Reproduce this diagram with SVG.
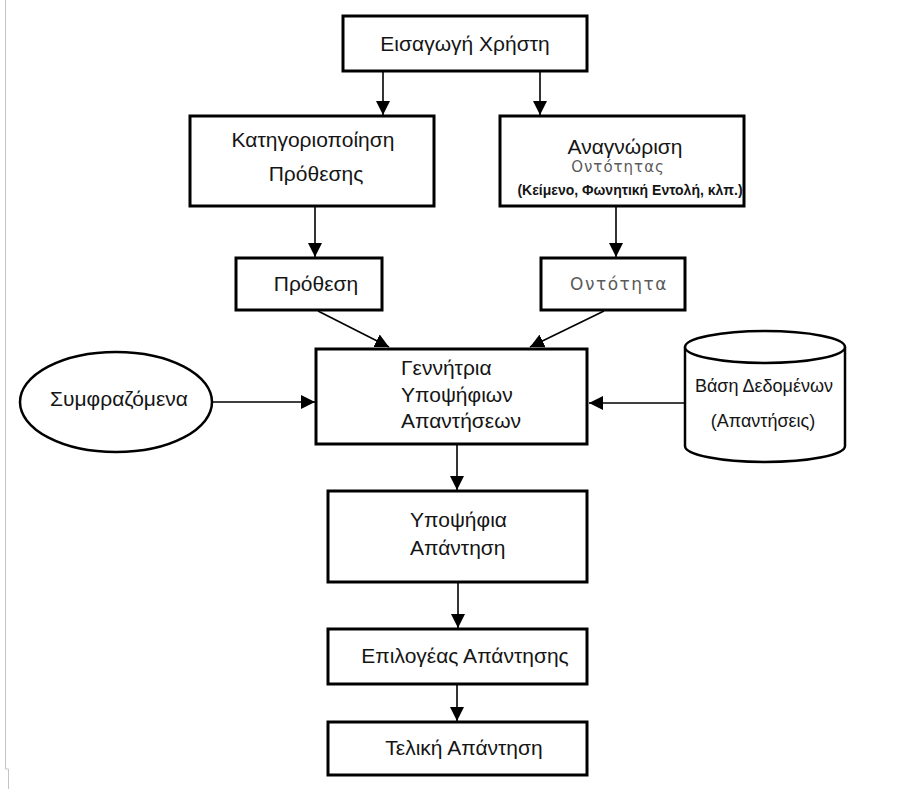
<svg xmlns="http://www.w3.org/2000/svg" width="897" height="789" viewBox="0 0 897 789">
<defs>
<marker id="ah" markerUnits="userSpaceOnUse" markerWidth="14" markerHeight="14" refX="14" refY="7" orient="auto">
<path d="M0,0 L14,7 L0,14 z" fill="#000"/>
</marker>
<style>
.box{fill:#fff;stroke:#000;stroke-width:3}
.shape{fill:#fff;stroke:#000;stroke-width:2.5}
.t{font-family:"Liberation Sans",Arial,sans-serif;font-size:21px;fill:#151515}
.c{text-anchor:middle}
.s{font-size:18px}
.g{font-family:"DejaVu Sans",Verdana,sans-serif;fill:#5a5a5a;text-anchor:middle}
.b{font-family:"Liberation Sans",Arial,sans-serif;font-size:14px;font-weight:bold;fill:#151515;text-anchor:middle}
.conn line{stroke:#000;stroke-width:1.6;marker-end:url(#ah)}
</style>
</defs>
<rect width="897" height="789" fill="#fff"/>
<path d="M5.5,0 V769 H8.5 V789" fill="none" stroke="#c4c4c4" stroke-width="1"/>

<g id="connectors" class="conn">
<line x1="383" y1="72" x2="383" y2="115"/>
<line x1="540" y1="72" x2="540" y2="115"/>
<line x1="315" y1="207" x2="315" y2="257"/>
<line x1="616" y1="207" x2="616" y2="257"/>
<line x1="318" y1="311" x2="389" y2="347"/>
<line x1="604" y1="311" x2="530" y2="347"/>
<line x1="212" y1="402" x2="315" y2="402"/>
<line x1="685" y1="403" x2="589" y2="403"/>
<line x1="457" y1="444" x2="457" y2="490"/>
<line x1="458" y1="583" x2="458" y2="628"/>
<line x1="457" y1="685" x2="457" y2="721"/>
</g>

<g id="user-input">
<rect class="box" x="343" y="16" width="244" height="55"/>
<text class="t c" x="465" y="51">Εισαγωγή Χρήστη</text>
</g>

<g id="intent-classification">
<rect class="box" x="190" y="116" width="244" height="90"/>
<text class="t c" x="313" y="147">Κατηγοριοποίηση</text>
<text class="t c" x="316" y="181">Πρόθεσης</text>
</g>

<g id="entity-recognition">
<rect class="box" x="500" y="116" width="244" height="90"/>
<text class="t c" x="625" y="154">Αναγνώριση</text>
<text class="g" x="618" y="172" font-size="15" letter-spacing="1">Οντότητας</text>
<text class="b" x="630" y="195">(Κείμενο, Φωνητική Εντολή, κλπ.)</text>
</g>

<g id="intent">
<rect class="box" x="236" y="258" width="146" height="52"/>
<text class="t c" x="316" y="291">Πρόθεση</text>
</g>

<g id="entity">
<rect class="box" x="541" y="258" width="144" height="52"/>
<text class="g" x="619" y="290" font-size="17" letter-spacing="1.5">Οντότητα</text>
</g>

<g id="context">
<ellipse class="shape" cx="116" cy="402" rx="96" ry="50"/>
<text class="t c" x="119" y="406">Συμφραζόμενα</text>
</g>

<g id="candidate-generator">
<rect class="box" x="316" y="349" width="271" height="95"/>
<text class="t" x="401" y="375">Γεννήτρια</text>
<text class="t" x="401" y="402">Υποψήφιων</text>
<text class="t" x="401" y="428">Απαντήσεων</text>
</g>

<g id="database">
<path class="shape" d="M685,347 V446 A80,16 0 0 0 845,446 V347"/>
<ellipse class="shape" cx="765" cy="347" rx="80" ry="16"/>
<text class="t c s" x="764" y="392">Βάση Δεδομένων</text>
<text class="t c s" x="763" y="427">(Απαντήσεις)</text>
</g>

<g id="candidate-answer">
<rect class="box" x="328" y="491" width="259" height="91"/>
<text class="t" x="410" y="527">Υποψήφια</text>
<text class="t" x="410" y="555">Απάντηση</text>
</g>

<g id="answer-selector">
<rect class="box" x="328" y="629" width="259" height="55"/>
<text class="t c" x="465" y="663">Επιλογέας Απάντησης</text>
</g>

<g id="final-answer">
<rect class="box" x="328" y="722" width="259" height="53"/>
<text class="t c" x="464" y="755">Τελική Απάντηση</text>
</g>
</svg>
